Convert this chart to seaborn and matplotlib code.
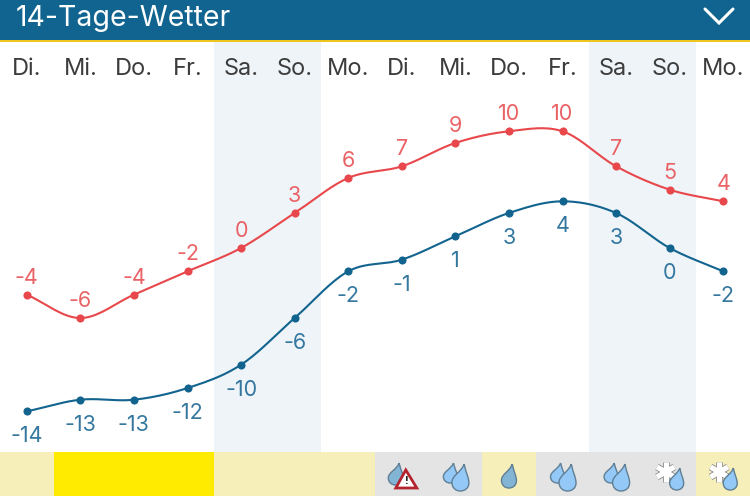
import numpy as np
import pandas as pd
import matplotlib
matplotlib.use('Agg')
import matplotlib.pyplot as plt
import seaborn as sns
from matplotlib.patches import PathPatch, Polygon, Rectangle
from matplotlib.path import Path

# Werte aus dem Bild
tage = ['Di.', 'Mi.', 'Do.', 'Fr.', 'Sa.', 'So.', 'Mo.', 'Di.', 'Mi.', 'Do.', 'Fr.', 'Sa.', 'So.', 'Mo.']
hoch = [-4, -6, -4, -2, 0, 3, 6, 7, 9, 10, 10, 7, 5, 4]
tief = [-14, -13, -13, -12, -10, -6, -2, -1, 1, 3, 4, 3, 0, -2]
streifen = ['blass', 'gelb', 'gelb', 'gelb', 'blass', 'blass', 'blass', 'grau', 'grau', 'blass',
            'grau', 'grau', 'grau', 'blass']
symbole = [None, None, None, None, None, None, None, 'warnung', 'regen', 'tropfen',
           'regen', 'regen', 'schnee', 'schnee']

ROT = '#e8474b'
BLAU = '#12648f'
FARBEN = {'blass': '#f6efb9', 'gelb': '#ffeb00', 'grau': '#e4e4e4'}

sns.set_style('white')
plt.rcParams['font.family'] = ['Inter', 'DejaVu Sans']

fig = plt.figure(figsize=(7.5, 4.96), dpi=100)
ax = fig.add_axes([0, 0, 1, 1])
ax.set_xlim(-0.5, 13.5)
ax.set_ylim(-21.25, 21.25)
ax.axis('off')


# Glatte Kurve durch die Punkte (Catmull-Rom)
def kurve(werte):
    y = np.array(werte, dtype=float)
    m = np.gradient(y)
    xs, ys = [], []
    for i in range(len(y) - 1):
        t = np.linspace(0, 1, 20)
        h = (2*t**3 - 3*t**2 + 1)*y[i] + (t**3 - 2*t**2 + t)*m[i] \
            + (-2*t**3 + 3*t**2)*y[i+1] + (t**3 - t**2)*m[i+1]
        xs.extend(i + t)
        ys.extend(h)
    return pd.DataFrame({'x': xs, 'y': ys})


# Wochenende
for start in [3.5, 10.5]:
    ax.add_patch(Rectangle((start, -17.5), 2, 35.5, color='#eef4f8', lw=0, zorder=0))

for werte, farbe, textfarbe, versatz in [(hoch, ROT, '#ea6266', 17), (tief, BLAU, '#34779f', -25)]:
    sns.lineplot(data=kurve(werte), x='x', y='y', color=farbe, lw=1.5, ax=ax, zorder=3)
    punkte = pd.DataFrame({'x': range(14), 'y': werte})
    sns.scatterplot(data=punkte, x='x', y='y', color=farbe, s=34, linewidth=0, ax=ax, zorder=4)
    for i, w in enumerate(werte):
        ax.annotate(str(w), (i, w), xytext=(0, versatz*0.72), textcoords='offset points',
                    ha='center', va='center', fontsize=15.5, color=textfarbe)
ax.set_xlabel('')
ax.set_ylabel('')

for i, tag in enumerate(tage):
    ax.text(i, 21.25 - 69/11.67, tag, ha='center', va='center', fontsize=17, color='#3c3c3c')

# Streifen unten
for i, art in enumerate(streifen):
    ax.bar(i, 44/11.67, width=1, bottom=-21.25, color=FARBEN[art], lw=0, zorder=1)

# Zweite Achse in Pixeln fuer Kopfzeile und Symbole
pix = fig.add_axes([0, 0, 1, 1], facecolor='none')
pix.set_xlim(0, 750)
pix.set_ylim(496, 0)
pix.axis('off')

pix.add_patch(Rectangle((0, 0), 750, 40, color='#10648f', lw=0))
pix.add_patch(Rectangle((0, 40), 750, 2, color='#eec41f', lw=0))
pix.text(16, 19, '14-Tage-Wetter', ha='left', va='center', fontsize=20.5, color='white')
pix.plot([705, 719, 733], [9, 23, 9], color='white', lw=2.2, solid_joinstyle='miter')


def tropfen(x, oben, b, h, farbe='#93c8f7', z=6):
    # x: Mitte, oben: Spitze, b/h: Groesse
    sp = x + 0.22*b
    verts = [(sp, oben),
             (sp + 0.12*b, oben + 0.35*h), (x + 0.5*b, oben + 0.5*h), (x + 0.5*b, oben + 0.7*h),
             (x + 0.5*b, oben + 0.9*h), (x + 0.25*b, oben + h), (x, oben + h),
             (x - 0.28*b, oben + h), (x - 0.5*b, oben + 0.88*h), (x - 0.5*b, oben + 0.68*h),
             (x - 0.5*b, oben + 0.42*h), (sp - 0.15*b, oben + 0.3*h), (sp, oben)]
    codes = [Path.MOVETO] + [Path.CURVE4]*12
    pix.add_patch(PathPatch(Path(verts, codes), facecolor=farbe, edgecolor='#5f7f95', lw=1, zorder=z))


def stern(x, y, r):
    for farbe, breite in [('#8a8a8a', 5), ('white', 3.8)]:
        for w in [90, 30, 150]:
            dx, dy = r*np.cos(np.radians(w)), r*np.sin(np.radians(w))
            pix.plot([x-dx, x+dx], [y-dy, y+dy], color=farbe, lw=breite, solid_capstyle='butt', zorder=5)


for i, art in enumerate(symbole):
    m = 26.8 + i*750/14
    if art == 'warnung':
        tropfen(m - 6, 463, 15, 22, farbe='#82b4d4')
        pix.add_patch(Polygon([(m + 4, 470), (m - 6, 488), (m + 15, 488)], closed=True,
                              facecolor='white', edgecolor='#b3242f', lw=2, zorder=7))
        pix.text(m + 4.5, 481, '!', ha='center', va='center', fontsize=8, fontweight='bold',
                 color='#222222', zorder=8)
    elif art == 'regen':
        tropfen(m - 5, 463, 14, 20, z=6)
        tropfen(m + 5, 464, 17, 27, z=7)
    elif art == 'tropfen':
        tropfen(m, 464, 15, 24, farbe='#82b4d4')
    elif art == 'schnee':
        stern(m - 4, 472, 10)
        tropfen(m + 7, 468, 14, 22, z=7)

fig.savefig('out.png', dpi=100)
